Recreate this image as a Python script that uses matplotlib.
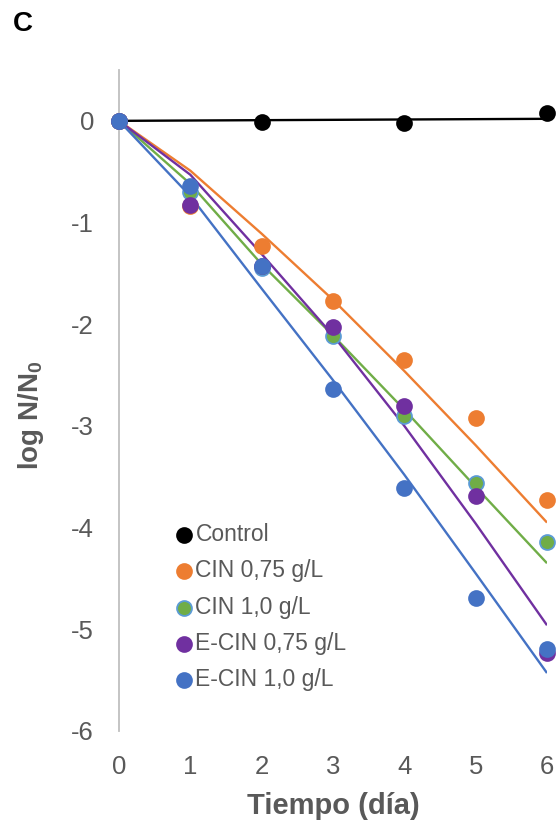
import matplotlib
matplotlib.use("Agg")
from matplotlib import pyplot as plt
import numpy as np

plt.rcParams['font.family'] = ['Liberation Sans', 'DejaVu Sans']
plt.rcParams['axes.unicode_minus'] = False

# measured points (log N/N0)
dias = [0, 1, 2, 3, 4, 5, 6]
dias_control = [0, 2, 4, 6]
control = [0.0, -0.01, -0.02, 0.08]
cin_075 = [0.0, -0.84, -1.23, -1.77, -2.35, -2.92, -3.73]
cin_10 = [0.0, -0.70, -1.45, -2.12, -2.90, -3.56, -4.14]
ecin_075 = [0.0, -0.83, -1.43, -2.03, -2.80, -3.69, -5.23]
ecin_10 = [0.0, -0.64, -1.43, -2.64, -3.61, -4.69, -5.19]

# fitted model lines
fit_control_x = [0, 6]
fit_control = [0.0, 0.02]
fit_cin_075 = [0.0, -0.49, -1.11, -1.76, -2.46, -3.19, -3.95]
fit_cin_10 = [0.0, -0.62, -1.41, -2.11, -2.84, -3.60, -4.35]
fit_ecin_075 = [0.0, -0.53, -1.31, -2.11, -3.00, -3.96, -4.96]
fit_ecin_10 = [0.0, -0.74, -1.65, -2.55, -3.48, -4.45, -5.43]

etiquetas = ['Control', 'CIN 0,75 g/L', 'CIN 1,0 g/L', 'E-CIN 0,75 g/L', 'E-CIN 1,0 g/L']
colores = ['#000000', '#ED7D31', '#70AD47', '#7030A0', '#4472C4']
bordes = ['#000000', '#ED7D31', '#5B9BD5', '#7030A0', '#4472C4']

gris = '#595959'

fig = plt.figure(figsize=(5.6, 8.23), dpi=100)
ax = fig.add_axes([119/560, 1-731/823, (547-119)/560, (731-70)/823])

series = [(dias_control, control, fit_control_x, fit_control),
          (dias, cin_075, dias, fit_cin_075),
          (dias, cin_10, dias, fit_cin_10),
          (dias, ecin_075, dias, fit_ecin_075),
          (dias, ecin_10, dias, fit_ecin_10)]

for i, (x, y, xf, yf) in enumerate(series):
    ax.plot(xf, yf, color=colores[i], lw=1.7, zorder=2, solid_capstyle='butt')

handles = []
for i, (x, y, xf, yf) in enumerate(series):
    h = ax.scatter(x, y, s=115, color=colores[i], edgecolors=bordes[i], linewidths=1.3,
                   zorder=3 + i, clip_on=False, label=etiquetas[i])
    handles.append(h)

ax.set_xlim(0, 6)
ax.set_ylim(-6, 0.5)
ax.set_xticks(range(0, 7))
ax.set_yticks(range(-6, 1))

for s in ['top', 'right', 'bottom']:
    ax.spines[s].set_visible(False)
ax.spines['left'].set_color('#BFBFBF')
ax.spines['left'].set_linewidth(1.3)

ax.tick_params(axis='both', length=0, labelsize=18.5, labelcolor=gris)
ax.tick_params(axis='y', pad=18)
ax.tick_params(axis='x', pad=17)

ax.set_xlabel('Tiempo (día)', fontsize=21, fontweight='bold', color=gris, labelpad=10)
ax.set_ylabel(r'log N/N$_\mathregular{0}$', fontsize=20, fontweight='bold', color=gris)
ax.yaxis.set_label_coords(-0.171, 0.477)

leg = ax.legend(handles=handles, loc='upper left', bbox_to_anchor=(176/560, 1-523/823),
                bbox_transform=fig.transFigure, frameon=False, fontsize=16.5,
                handlelength=0.7, handletextpad=0.15, labelspacing=0.58,
                borderpad=0, borderaxespad=0, scatterpoints=1)
for t in leg.get_texts():
    t.set_color(gris)

fig.text(13/560, 1-24/823, 'C', fontsize=20, fontweight='bold', va='center', ha='left')

fig.savefig('out.png', dpi=100)
